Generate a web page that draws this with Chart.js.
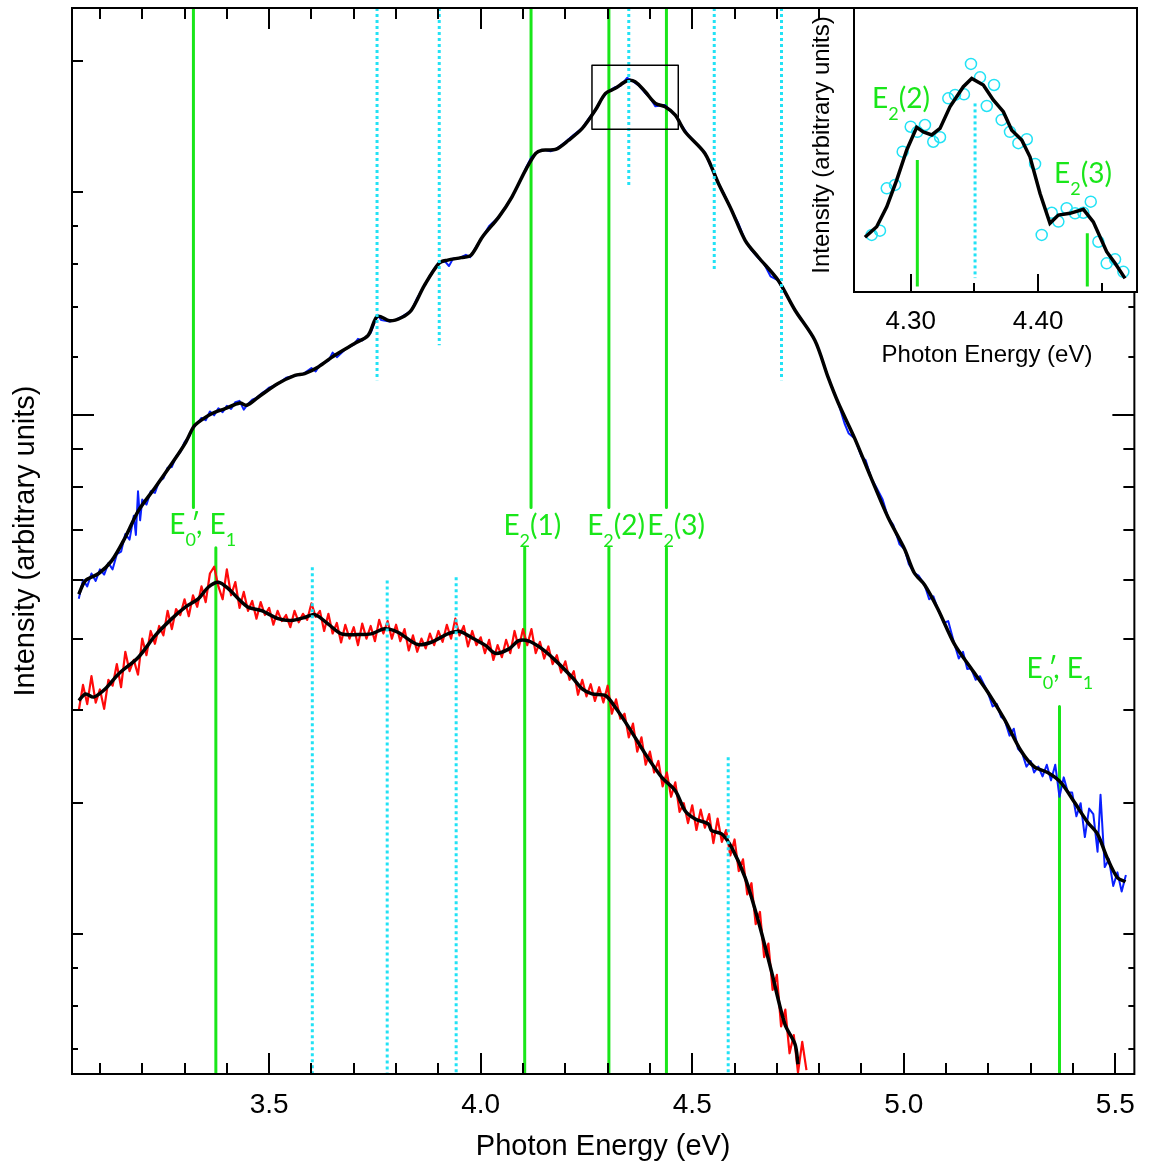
<!DOCTYPE html>
<html><head><meta charset="utf-8">
<script src="https://cdn.jsdelivr.net/npm/chart.js@4"></script>
<style>
html,body{margin:0;padding:0;background:#fff;}
#wrap{position:relative;width:1149px;height:1168px;background:#fff;}
#main{position:absolute;left:0;top:0;}
#inset{position:absolute;left:790px;top:0;}
</style></head><body>
<div id="wrap"><canvas id="main" width="1149" height="1168"></canvas><canvas id="inset" width="359" height="380"></canvas></div>
<script>
// ---------------- DATA (main chart) ----------------
const xRange = [3.034, 5.545];
const yRange = [0.1294, 3.542];
const xMajorTicks = [3.5, 4.0, 4.5, 5.0, 5.5];
const xMinorTicks = [3.1,3.2,3.3,3.4,3.6,3.7,3.8,3.9,4.1,4.2,4.3,4.4,4.6,4.7,4.8,4.9,5.1,5.2,5.3,5.4];
const yMajorTicks = [1];
const yMediumTicks = [0.2,0.3,0.4,0.5,0.6,0.7,0.8,0.9,2,3];
const yMinorTicks = [0.14,0.16,0.18,1.2,1.4,1.6,1.8];

const blueSmoothE = [3.050,3.066,3.097,3.128,3.160,3.191,3.231,3.270,3.301,3.321,3.333,3.364,3.396,3.431,3.447,3.474,3.521,3.561,3.584,3.616,3.655,3.702,3.734,3.756,3.785,3.812,3.836,3.867,3.902,3.922,3.954,3.977,4.004,4.043,4.074,4.106,4.130,4.145,4.177,4.208,4.240,4.271,4.295,4.318,4.346,4.365,4.389,4.413,4.436,4.460,4.483,4.530,4.562,4.593,4.625,4.656,4.703,4.743,4.790,4.821,4.845,4.884,4.923,4.963,5.002,5.025,5.049,5.080,5.120,5.159,5.198,5.238,5.277,5.308,5.340,5.371,5.403,5.434,5.458,5.481,5.505,5.524];
const blueSmoothI = [0.574,0.599,0.612,0.637,0.685,0.744,0.800,0.861,0.916,0.964,0.979,1.005,1.021,1.039,1.032,1.058,1.104,1.132,1.138,1.162,1.205,1.250,1.282,1.360,1.341,1.354,1.386,1.497,1.605,1.619,1.632,1.644,1.740,1.852,1.971,2.141,2.255,2.278,2.283,2.350,2.437,2.580,2.717,2.760,2.826,2.818,2.731,2.634,2.607,2.540,2.412,2.255,2.054,1.891,1.722,1.635,1.521,1.386,1.262,1.126,1.040,0.931,0.823,0.728,0.660,0.613,0.591,0.549,0.491,0.456,0.424,0.389,0.353,0.336,0.330,0.320,0.301,0.283,0.2725,0.253,0.238,0.235];

const redSmoothE = [3.050,3.066,3.085,3.113,3.144,3.191,3.231,3.270,3.301,3.333,3.356,3.380,3.404,3.427,3.451,3.482,3.521,3.553,3.584,3.608,3.639,3.671,3.710,3.741,3.773,3.804,3.851,3.883,3.922,3.949,3.980,4.012,4.035,4.067,4.090,4.114,4.145,4.177,4.216,4.240,4.263,4.295,4.318,4.350,4.389,4.428,4.460,4.483,4.507,4.538,4.546,4.570,4.593,4.625,4.656,4.687,4.719,4.743,4.750];
const redSmoothI = [0.4125,0.421,0.417,0.428,0.448,0.472,0.505,0.532,0.551,0.566,0.5865,0.5957,0.5836,0.566,0.551,0.5454,0.532,0.529,0.534,0.5387,0.5235,0.5074,0.5063,0.5074,0.5154,0.510,0.4909,0.4944,0.5074,0.5116,0.501,0.4893,0.4777,0.4843,0.4969,0.496,0.4843,0.467,0.4434,0.4277,0.4211,0.4189,0.404,0.3796,0.3496,0.325,0.3118,0.293,0.2856,0.2812,0.2754,0.2726,0.2615,0.2381,0.2083,0.1782,0.151,0.1419,0.1334];

const blueRaw = [[3.050,0.566],[3.060,0.600],[3.070,0.588],[3.080,0.612],[3.090,0.598],[3.100,0.620],[3.110,0.610],[3.120,0.632],[3.130,0.620],[3.140,0.650],[3.150,0.655],[3.160,0.692],[3.170,0.680],[3.180,0.732],[3.185,0.690],[3.190,0.790],[3.195,0.722],[3.200,0.770],[3.210,0.758],[3.220,0.790],[3.230,0.786],[3.240,0.815],[3.250,0.822],[3.260,0.850],[3.270,0.852],[3.280,0.880],[3.290,0.892],[3.300,0.920],[3.310,0.935],[3.320,0.962],[3.330,0.975],[3.340,0.992],[3.350,0.985],[3.360,1.012],[3.370,1.000],[3.380,1.022],[3.390,1.010],[3.400,1.030],[3.410,1.020],[3.420,1.042],[3.430,1.046],[3.440,1.018],[3.450,1.036],[3.460,1.050],[3.470,1.056],[3.480,1.068],[3.490,1.078],[3.500,1.090],[3.520,1.102],[3.540,1.124],[3.560,1.131],[3.580,1.137],[3.600,1.158],[3.610,1.146],[3.620,1.170],[3.640,1.185],[3.650,1.215],[3.660,1.198],[3.680,1.228],[3.700,1.246],[3.710,1.268],[3.720,1.262],[3.740,1.292],[3.756,1.366],[3.765,1.344],[3.785,1.338],[3.800,1.346],[3.815,1.360],[3.836,1.384],[3.850,1.440],[3.867,1.497],[3.885,1.560],[3.902,1.610],[3.915,1.614],[3.925,1.590],[3.935,1.628],[3.950,1.630],[3.965,1.646],[3.975,1.634],[3.990,1.690],[4.004,1.740],[4.020,1.800],[4.043,1.852],[4.060,1.914],[4.074,1.971],[4.090,2.050],[4.106,2.150],[4.120,2.230],[4.135,2.266],[4.150,2.280],[4.165,2.270],[4.180,2.290],[4.200,2.336],[4.220,2.390],[4.240,2.440],[4.255,2.510],[4.271,2.580],[4.285,2.665],[4.300,2.730],[4.318,2.770],[4.330,2.780],[4.346,2.852],[4.360,2.820],[4.375,2.780],[4.389,2.720],[4.400,2.680],[4.413,2.610],[4.425,2.616],[4.436,2.620],[4.448,2.575],[4.460,2.540],[4.475,2.460],[4.490,2.390],[4.505,2.340],[4.520,2.290],[4.530,2.262],[4.540,2.190],[4.550,2.130],[4.562,2.054],[4.575,1.990],[4.593,1.891],[4.610,1.810],[4.625,1.722],[4.640,1.670],[4.656,1.630],[4.670,1.600],[4.685,1.540],[4.703,1.520],[4.720,1.460],[4.743,1.386],[4.765,1.330],[4.790,1.262],[4.805,1.200],[4.821,1.126],[4.835,1.075],[4.845,1.040],[4.860,0.975],[4.870,0.945],[4.884,0.931],[4.900,0.880],[4.910,0.870],[4.923,0.823],[4.935,0.800],[4.950,0.770],[4.963,0.728],[4.975,0.712],[4.990,0.670],[5.002,0.660],[5.012,0.630],[5.025,0.613],[5.035,0.608],[5.049,0.591],[5.060,0.565],[5.070,0.570],[5.080,0.549],[5.095,0.525],[5.105,0.528],[5.120,0.491],[5.130,0.470],[5.140,0.480],[5.150,0.455],[5.159,0.456],[5.170,0.440],[5.180,0.445],[5.198,0.424],[5.210,0.405],[5.220,0.408],[5.230,0.392],[5.238,0.389],[5.250,0.370],[5.260,0.378],[5.270,0.355],[5.280,0.350],[5.290,0.336],[5.300,0.342],[5.308,0.330],[5.318,0.336],[5.328,0.326],[5.338,0.338],[5.348,0.322],[5.358,0.338],[5.368,0.306],[5.378,0.325],[5.388,0.310],[5.398,0.310],[5.408,0.288],[5.418,0.300],[5.428,0.270],[5.438,0.295],[5.448,0.290],[5.458,0.258],[5.465,0.308],[5.475,0.246],[5.485,0.252],[5.495,0.232],[5.505,0.242],[5.515,0.228],[5.525,0.240]];

const redRaw = [[3.05,.400],[3.06,.433],[3.07,.408],[3.08,.445],[3.09,.410],[3.10,.427],[3.11,.402],[3.12,.440],[3.13,.432],[3.14,.462],[3.15,.430],[3.16,.480],[3.17,.452],[3.18,.468],[3.19,.447],[3.20,.500],[3.21,.475],[3.22,.512],[3.23,.492],[3.24,.520],[3.25,.505],[3.26,.545],[3.27,.515],[3.28,.548],[3.29,.538],[3.30,.565],[3.31,.536],[3.32,.572],[3.33,.552],[3.34,.588],[3.35,.560],[3.36,.612],[3.37,.625],[3.38,.588],[3.39,.565],[3.40,.620],[3.41,.572],[3.42,.596],[3.43,.550],[3.44,.578],[3.45,.545],[3.46,.562],[3.47,.532],[3.48,.560],[3.49,.538],[3.50,.550],[3.51,.522],[3.52,.545],[3.53,.528],[3.54,.538],[3.55,.518],[3.56,.545],[3.57,.526],[3.58,.540],[3.59,.530],[3.60,.558],[3.61,.535],[3.62,.545],[3.63,.512],[3.64,.540],[3.65,.508],[3.66,.525],[3.67,.494],[3.68,.522],[3.69,.500],[3.70,.518],[3.71,.490],[3.72,.524],[3.73,.500],[3.74,.520],[3.75,.496],[3.76,.530],[3.77,.508],[3.78,.528],[3.79,.500],[3.80,.522],[3.81,.496],[3.82,.515],[3.83,.482],[3.84,.505],[3.85,.480],[3.86,.500],[3.87,.485],[3.88,.508],[3.89,.490],[3.90,.512],[3.91,.495],[3.92,.522],[3.93,.500],[3.94,.532],[3.95,.505],[3.96,.520],[3.97,.488],[3.98,.512],[3.99,.490],[4.00,.502],[4.01,.478],[4.02,.498],[4.03,.468],[4.04,.490],[4.05,.472],[4.06,.498],[4.07,.478],[4.08,.512],[4.09,.486],[4.10,.515],[4.11,.490],[4.12,.515],[4.13,.478],[4.14,.495],[4.15,.470],[4.16,.488],[4.17,.462],[4.18,.475],[4.19,.450],[4.20,.466],[4.21,.440],[4.22,.452],[4.23,.420],[4.24,.440],[4.25,.418],[4.26,.434],[4.27,.412],[4.28,.430],[4.29,.410],[4.30,.432],[4.31,.396],[4.32,.414],[4.33,.390],[4.34,.396],[4.35,.368],[4.36,.384],[4.37,.352],[4.38,.368],[4.39,.338],[4.40,.352],[4.41,.330],[4.42,.342],[4.43,.316],[4.44,.330],[4.45,.306],[4.46,.320],[4.47,.292],[4.48,.300],[4.49,.282],[4.50,.298],[4.51,.276],[4.52,.294],[4.53,.278],[4.54,.290],[4.55,.265],[4.56,.286],[4.57,.266],[4.58,.276],[4.59,.255],[4.60,.268],[4.61,.243],[4.62,.252],[4.63,.226],[4.64,.234],[4.65,.206],[4.66,.214],[4.67,.186],[4.68,.194],[4.69,.168],[4.70,.176],[4.71,.150],[4.72,.158],[4.73,.138],[4.74,.146],[4.75,.130],[4.76,.143],[4.77,.131]];

// transition markers
const greenUpperE = [3.321, 4.119, 4.303, 4.439];
const greenUpperBottomI = 0.751;
const greenLowerE = [3.374, 4.104, 4.303, 4.439];
const greenLowerTopI = 0.663;
const greenRightE = [5.368];
const greenRightTopI = 0.405;
const cyanUpperE = [3.755, 3.902, 4.350, 4.552, 4.711];
const cyanUpperBottomI = [1.115, 1.243, 2.033, 1.569, 1.115];
const cyanLowerE = [3.602, 3.779, 3.942, 4.585];
const cyanLowerTopI = [0.624, 0.599, 0.605, 0.346];
const zoomBoxE = [4.263, 4.467];
const zoomBoxI = [2.430, 2.965];

const labelE = [3.343, 4.122, 4.320, 4.462, 5.369];
const labelI = [0.691, 0.689, 0.689, 0.689, 0.443];
const labelKind = ['E0E1', 'E2(1)', 'E2(2)', 'E2(3)', 'E0E1'];

// ---------------- DATA (inset) ----------------
const insetXRange = [4.2555, 4.4776];
const insetYRange = [0, 100];
const insetMajorTicks = [4.30, 4.40];
const insetMinorTicks = [4.35, 4.45];
const insetCircleE = [4.2694,4.2759,4.2812,4.2877,4.2937,4.3000,4.3052,4.3112,4.3177,4.3230,4.3295,4.3348,4.3418,4.3473,4.3544,4.3597,4.3654,4.3714,4.3779,4.3845,4.3911,4.3976,4.4028,4.4107,4.4159,4.4224,4.4290,4.4355,4.4413,4.4473,4.4538,4.4604,4.4669];
const insetCircleV = [20.1,21.6,36.5,37.7,49.4,58.2,56.4,58.8,52.9,54.5,68.2,69.4,69.6,80.3,75.6,65.5,72.9,60.6,56.4,52.4,53.8,45.1,20.1,27.9,24.8,29.5,27.7,27.9,31.8,17.7,10.1,11.5,7.1];
const insetLineE = [4.2641,4.2733,4.2812,4.2890,4.2969,4.3047,4.3099,4.3165,4.3230,4.3308,4.3413,4.3479,4.3570,4.3648,4.3727,4.3793,4.3871,4.3936,4.4015,4.4093,4.4159,4.4250,4.4355,4.4433,4.4538,4.4604,4.4682];
const insetLineV = [19.3,23.0,30.0,39.4,50.0,58.0,56.4,55.3,57.6,65.2,72.3,75.2,72.9,67.6,63.5,57.0,53.5,47.6,34.7,24.2,27.1,27.7,29.1,24.7,14.2,10.1,4.8];
const insetGreenE = [4.3052, 4.4386];
const insetGreenTopV = [46.5, 20.7];
const insetGreenBottomV = 1.9;
const insetCyanE = [4.3505];
const insetCyanTopV = [66.4];
const insetCyanBottomV = 4.9;
const insetLabelE = [4.2924, 4.4352];
const insetLabelV = [64.8, 38.4];
const insetLabelKind = ['E2(2)', 'E2(3)'];

// ---------------- helpers ----------------
const GREEN = '#19e619';
const CYAN = '#22e2f5';
const pts = (E, I) => E.map((e, i) => ({x: e, y: I[i]}));
function segs(E, topArr, botArr) {
  const out = [];
  E.forEach((e, i) => {
    const t = Array.isArray(topArr) ? topArr[i] : topArr;
    const b = Array.isArray(botArr) ? botArr[i] : botArr;
    out.push({x: e, y: t}, {x: e, y: b}, {x: e, y: null});
  });
  return out;
}
function labelParts(kind) {
  if (kind === 'E0E1') return [{t:'E'},{t:'0',sub:1},{t:'\u2032',noAdv:1,dx:-5},{t:', '},{t:'E'},{t:'1',sub:1}];
  const m = kind.match(/E2\((\d)\)/);
  return [{t:'E'},{t:'2',sub:1},{t:'('+m[1]+')'}];
}
function drawRich(ctx, parts, cx, base, size) {
  const sub = Math.round(size * 0.65);
  let w = 0;
  parts.forEach(p => {
    ctx.font = (p.sub ? sub : size) + 'px Lato, "Open Sans", sans-serif';
    p.w = p.noAdv ? 0 : ctx.measureText(p.t).width;
    w += p.w;
  });
  let x = cx - w / 2;
  ctx.fillStyle = GREEN;
  ctx.textBaseline = 'alphabetic';
  ctx.textAlign = 'left';
  parts.forEach(p => {
    ctx.font = (p.sub ? sub : size) + 'px Lato, "Open Sans", sans-serif';
    const yy = p.sub ? base + size * 0.42 : base;
    ctx.fillText(p.t, x + (p.dx || 0), yy);
    x += p.w;
  });
}
function line(ctx, x1, y1, x2, y2) { ctx.beginPath(); ctx.moveTo(x1, y1); ctx.lineTo(x2, y2); ctx.stroke(); }

// ---------------- main chart ----------------
const mainDecor = {
  id: 'mainDecor',
  afterDatasetsDraw(chart) {
    const {ctx, scales: {x, y}} = chart;
    ctx.save();
    labelKind.forEach((k, i) => drawRich(ctx, labelParts(k), x.getPixelForValue(labelE[i]), y.getPixelForValue(labelI[i]), 28));
    ctx.restore();
  },
  afterDraw(chart) {
    const {ctx, chartArea: a, scales: {x, y}} = chart;
    ctx.save();
    ctx.strokeStyle = '#000'; ctx.lineWidth = 2; ctx.lineCap = 'butt';
    ctx.strokeRect(a.left, a.top, a.right - a.left, a.bottom - a.top);
    const xt = (v, len) => { const p = Math.round(x.getPixelForValue(v)); line(ctx, p, a.bottom, p, a.bottom - len); line(ctx, p, a.top, p, a.top + len); };
    xMajorTicks.forEach(v => xt(v, 21));
    xMinorTicks.forEach(v => xt(v, 11));
    const yt = (v, len) => { const p = Math.round(y.getPixelForValue(v)); line(ctx, a.left, p, a.left + len, p); line(ctx, a.right, p, a.right - len, p); };
    yMajorTicks.forEach(v => yt(v, 22));
    yMediumTicks.forEach(v => yt(v, 11));
    yMinorTicks.forEach(v => yt(v, 6));
    ctx.fillStyle = '#000';
    ctx.font = '29px "Liberation Sans", Arial, sans-serif';
    ctx.textAlign = 'center'; ctx.textBaseline = 'middle';
    ctx.fillText('Photon Energy (eV)', (a.left + a.right) / 2, 1147);
    ctx.translate(26, (a.top + a.bottom) / 2);
    ctx.rotate(-Math.PI / 2);
    ctx.fillText('Intensity (arbitrary units)', 0, 0);
    ctx.restore();
  }
};

const mainChart = new Chart(document.getElementById('main'), {
  type: 'line',
  data: {
    datasets: [
      {data: [{x: zoomBoxE[0], y: zoomBoxI[0]}, {x: zoomBoxE[1], y: zoomBoxI[0]}, {x: zoomBoxE[1], y: zoomBoxI[1]}, {x: zoomBoxE[0], y: zoomBoxI[1]}, {x: zoomBoxE[0], y: zoomBoxI[0]}], borderColor: '#000', borderWidth: 1.5, order: 0},
      {data: segs(cyanUpperE, yRange[1], cyanUpperBottomI).concat(segs(cyanLowerE, cyanLowerTopI, yRange[0])), borderColor: CYAN, borderWidth: 3, borderDash: [3, 3], order: 1},
      {data: pts(blueSmoothE, blueSmoothI), borderColor: '#000', borderWidth: 3.5, tension: 0.3, order: 2},
      {data: pts(redSmoothE, redSmoothI), borderColor: '#000', borderWidth: 3.5, tension: 0.3, order: 2},
      {data: blueRaw.map(p => ({x: p[0], y: p[1]})), borderColor: '#0a20ff', borderWidth: 2, order: 3},
      {data: redRaw.map(p => ({x: p[0], y: p[1]})), borderColor: '#ff0a0a', borderWidth: 2.2, order: 3},
      {data: segs(greenUpperE, yRange[1], greenUpperBottomI).concat(segs(greenLowerE, greenLowerTopI, yRange[0])).concat(segs(greenRightE, greenRightTopI, yRange[0])), borderColor: GREEN, borderWidth: 3, order: 4}
    ]
  },
  options: {
    responsive: false, animation: false, devicePixelRatio: 1, events: [],
    layout: {padding: {left: 0, top: 8, right: 12, bottom: 0}},
    elements: {point: {radius: 0}, line: {fill: false, borderJoinStyle: 'round'}},
    plugins: {legend: {display: false}, tooltip: {enabled: false}},
    scales: {
      x: {
        type: 'linear', min: xRange[0], max: xRange[1],
        grid: {display: false, drawTicks: false}, border: {display: false},
        afterBuildTicks: s => { s.ticks = xMinorTicks.concat(xMajorTicks).sort((a, b) => a - b).map(v => ({value: v})); },
        afterFit: s => { s.height = 94; },
        ticks: {autoSkip: false, maxRotation: 0, padding: 14, color: '#000', font: {family: '"Liberation Sans", Arial, sans-serif', size: 28},
          callback: v => xMajorTicks.includes(v) ? v.toFixed(1) : ''}
      },
      y: {
        type: 'logarithmic', min: yRange[0], max: yRange[1],
        grid: {display: false, drawTicks: false}, border: {display: false},
        afterBuildTicks: s => { s.ticks = yMinorTicks.concat(yMediumTicks, yMajorTicks).sort((a, b) => a - b).map(v => ({value: v})); },
        afterFit: s => { s.width = 72; },
        ticks: {display: false}
      }
    }
  },
  plugins: [mainDecor]
});

// ---------------- inset chart ----------------
const insetDecor = {
  id: 'insetDecor',
  beforeDatasetsDraw(chart) {
    const {ctx, chartArea: a} = chart;
    ctx.save();
    ctx.fillStyle = '#fff';
    ctx.fillRect(a.left, a.top - 1, a.right - a.left + 2, a.bottom - a.top + 1);
    ctx.restore();
  },
  afterDatasetsDraw(chart) {
    const {ctx, scales: {x, y}} = chart;
    ctx.save();
    insetLabelKind.forEach((k, i) => drawRich(ctx, labelParts(k), x.getPixelForValue(insetLabelE[i]), y.getPixelForValue(insetLabelV[i]), 28));
    ctx.restore();
  },
  afterDraw(chart) {
    const {ctx, chartArea: a, scales: {x}} = chart;
    ctx.save();
    ctx.strokeStyle = '#000'; ctx.lineWidth = 2;
    ctx.strokeRect(a.left, a.top, a.right - a.left, a.bottom - a.top);
    insetMajorTicks.forEach(v => { const p = Math.round(x.getPixelForValue(v)); line(ctx, p, a.bottom, p, a.bottom - 18); });
    insetMinorTicks.forEach(v => { const p = Math.round(x.getPixelForValue(v)); line(ctx, p, a.bottom, p, a.bottom - 9); });
    ctx.fillStyle = '#000';
    ctx.font = '24px "Liberation Sans", Arial, sans-serif';
    ctx.textAlign = 'center'; ctx.textBaseline = 'middle';
    ctx.fillText('Photon Energy (eV)', 197, 355);
    ctx.translate(32, 145);
    ctx.rotate(-Math.PI / 2);
    ctx.fillText('Intensity (arbitrary units)', 0, 0);
    ctx.restore();
  }
};

const insetChart = new Chart(document.getElementById('inset'), {
  type: 'line',
  data: {
    datasets: [
      {data: segs(insetCyanE, insetCyanTopV, insetCyanBottomV), borderColor: CYAN, borderWidth: 3, borderDash: [3, 3], order: 1},
      {data: pts(insetLineE, insetLineV), borderColor: '#000', borderWidth: 3.5, tension: 0, order: 2},
      {data: pts(insetCircleE, insetCircleV), showLine: false, pointRadius: 5.5, pointBorderWidth: 1.5, pointBorderColor: CYAN, pointBackgroundColor: 'rgba(0,0,0,0)', order: 3},
      {data: segs(insetGreenE, insetGreenTopV, insetGreenBottomV), borderColor: GREEN, borderWidth: 3, order: 4}
    ]
  },
  options: {
    responsive: false, animation: false, devicePixelRatio: 1, events: [],
    layout: {padding: {left: 0, top: 8, right: 12, bottom: 0}},
    elements: {point: {radius: 0}, line: {fill: false}},
    plugins: {legend: {display: false}, tooltip: {enabled: false}},
    scales: {
      x: {
        type: 'linear', min: insetXRange[0], max: insetXRange[1],
        grid: {display: false, drawTicks: false}, border: {display: false},
        afterBuildTicks: s => { s.ticks = insetMajorTicks.map(v => ({value: v})); },
        afterFit: s => { s.height = 88; },
        ticks: {autoSkip: false, maxRotation: 0, padding: 14, color: '#000', font: {family: '"Liberation Sans", Arial, sans-serif', size: 26},
          callback: v => v.toFixed(2)}
      },
      y: {
        type: 'linear', min: insetYRange[0], max: insetYRange[1],
        grid: {display: false, drawTicks: false}, border: {display: false},
        afterFit: s => { s.width = 64; },
        ticks: {display: false}
      }
    }
  },
  plugins: [insetDecor]
});
</script>
</body></html>
